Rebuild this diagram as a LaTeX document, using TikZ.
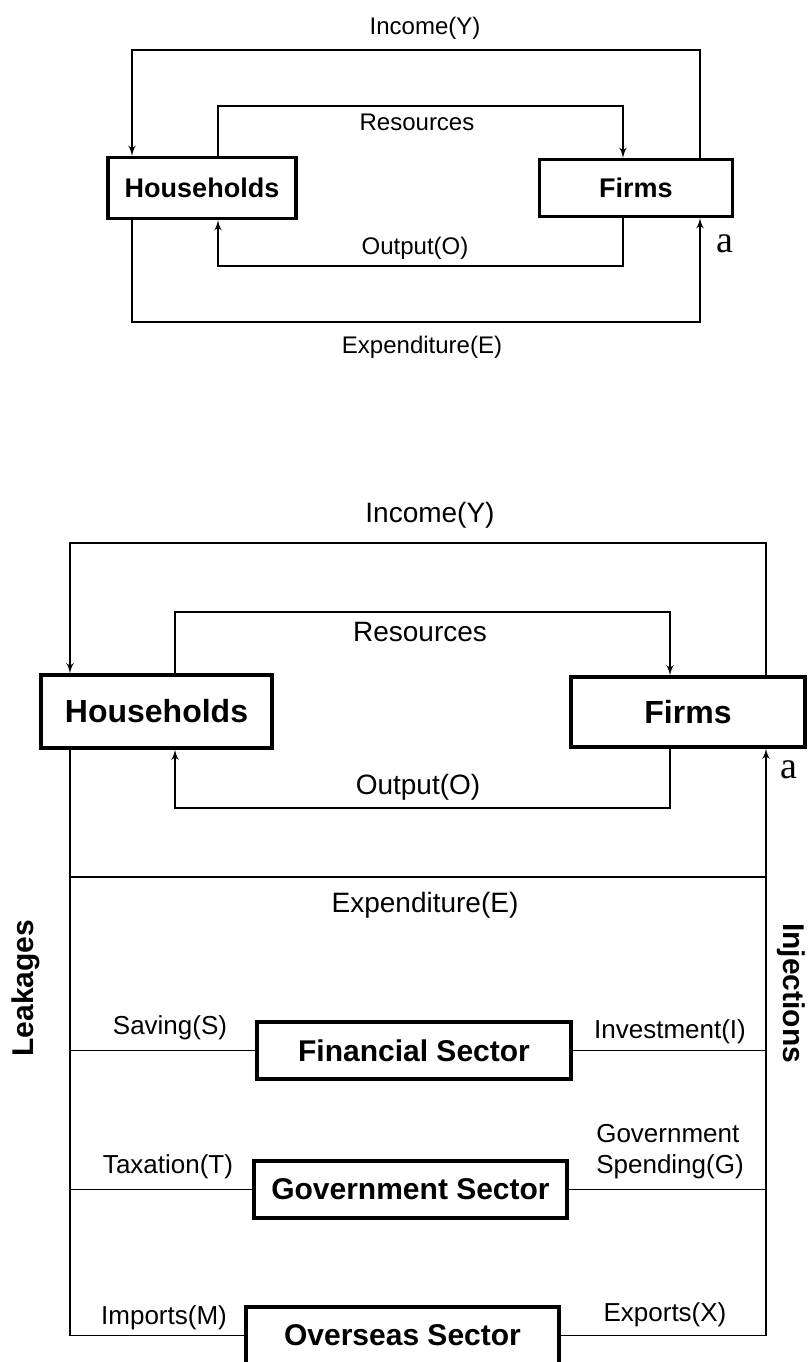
\documentclass[tikz,border=0pt]{standalone}
\usepackage{fontspec}
\setmainfont{Liberation Sans}
\newfontfamily\markfont{Liberation Serif}
\usepackage{tikz}
\usetikzlibrary{arrows}
\usetikzlibrary{positioning,shapes,calc}
\tikzstyle{sector} = [rectangle,draw=black,line width=1.6pt,font=\bfseries\fontsize{16}{18}\selectfont,inner sep=0pt]
\tikzstyle{sector_small} = [sector,font=\bfseries\fontsize{13.5}{16}\selectfont]
\tikzstyle{flow} = [draw=black, line width=0.8pt]
\tikzstyle{flow_label} = [font=\fontsize{14}{16}\selectfont,inner sep=0pt]
\tikzstyle{flow_label_small} = [font=\fontsize{12}{14}\selectfont,inner sep=0pt]
\tikzstyle{side_label} = [font=\fontsize{13}{15.5}\selectfont,inner sep=0pt]
\tikzstyle{side_title} = [font=\bfseries\fontsize{15}{18}\selectfont,inner sep=0pt]
\tikzstyle{mark_a} = [font=\markfont\fontsize{19}{21}\selectfont,inner sep=0pt]

\begin{document}
\begin{tikzpicture}[-,> = latex',x=0.5pt,y=-0.5pt]
    \useasboundingbox (0,0) rectangle (809,1362);
    \clip (0,0) rectangle (809,1362);

    % two-sector circular flow
      \node[sector_small,minimum width=94pt,minimum height=30.5pt] (hh1) at (202,188) {Households};
      \node[sector_small,minimum width=96.5pt,minimum height=28.5pt] (fm1) at (636,188) {Firms};

      \coordinate (yl1) at (132,50);  \coordinate (yr1) at (700,50);
      \coordinate (rl1) at (218,106); \coordinate (rr1) at (623,106);
      \coordinate (ol1) at (218,266); \coordinate (or1) at (623,266);
      \coordinate (el1) at (132,322); \coordinate (er1) at (700,322);

      \path[flow,->] (fm1.north -| yr1) -- (yr1) -- (yl1) -- (hh1.north -| yl1);
      \path[flow,->] (hh1.north -| rl1) -- (rl1) -- (rr1) -- (fm1.north -| rr1);
      \path[flow,->] (fm1.south -| or1) -- (or1) -- (ol1) -- (hh1.south -| ol1);
      \path[flow,->] (hh1.south -| el1) -- (el1) -- (er1) -- (fm1.south -| er1);

      \node[flow_label_small] (inc1) at (425,28)  {Income(Y)};
      \node[flow_label_small] (res1) at (417,122) {Resources};
      \node[flow_label_small] (out1) at (415,248) {Output(O)};
      \node[flow_label_small] (exp1) at (422,347) {Expenditure(E)};
      \node[mark_a] (a1) at (725,244) {a};

    % five-sector circular flow
      \node[sector,minimum width=115.5pt,minimum height=36.5pt] (hh2) at (156.5,711.5) {Households};
      \node[sector,minimum width=117pt,minimum height=35pt] (fm2) at (688,712) {Firms};
      \node[sector,font=\bfseries\fontsize{15}{18}\selectfont,minimum width=157pt,minimum height=28.5pt] (fin) at (414,1050.5) {Financial Sector};
      \node[sector,font=\bfseries\fontsize{15}{18}\selectfont,minimum width=156.5pt,minimum height=28.5pt] (gov) at (410.5,1189.5) {Government Sector};
      \node[sector,font=\bfseries\fontsize{15}{18}\selectfont,minimum width=156.5pt,minimum height=28.5pt] (ovs) at (402.5,1335.5) {Overseas Sector};

      \coordinate (yl2) at (70,543);  \coordinate (yr2) at (766,543);
      \coordinate (rl2) at (175,612); \coordinate (rr2) at (670,612);
      \coordinate (ol2) at (175,808); \coordinate (or2) at (670,808);
      \coordinate (el2) at (70,877);  \coordinate (er2) at (766,877);

      \path[flow,->] (fm2.north -| yr2) -- (yr2) -- (yl2) -- (hh2.north -| yl2);
      \path[flow,->] (hh2.north -| rl2) -- (rl2) -- (rr2) -- (fm2.north -| rr2);
      \path[flow,->] (fm2.south -| or2) -- (or2) -- (ol2) -- (hh2.south -| ol2);
      \path[flow] (el2) -- (er2);
      \path[flow] (hh2.south -| el2) -- (ovs.west -| el2) -- (ovs.west);
      \path[flow,->] (ovs.east) -- (ovs.east -| er2) -- (fm2.south -| er2);
      \path[flow]
        \foreach \s in {fin,gov} {
          (\s.west) -- (\s.west -| el2)
          (\s.east) -- (\s.east -| er2)
        } ;

      \node[flow_label] (inc2) at (430,515) {Income(Y)};
      \node[flow_label] (res2) at (420,632) {Resources};
      \node[flow_label] (out2) at (418,787) {Output(O)};
      \node[flow_label] (exp2) at (425,905) {Expenditure(E)};
      \node[mark_a] (a2) at (789,770) {a};

      \node[side_label] (sav) at (170,1028) {Saving(S)};
      \node[side_label] (inv) at (670,1032) {Investment(I)};
      \node[side_label] (tax) at (168,1167) {Taxation(T)};
      \node[side_label,align=left] (spd) at (670,1152) {Government\\Spending(G)};
      \node[side_label] (imp) at (164,1318) {Imports(M)};
      \node[side_label] (exq) at (665,1315) {Exports(X)};

      \node[side_title,rotate=90] (leak) at (26,988) {Leakages};
      \node[side_title,rotate=-90] (inj) at (791,993) {Injections};
    \end{tikzpicture}
\end{document}
